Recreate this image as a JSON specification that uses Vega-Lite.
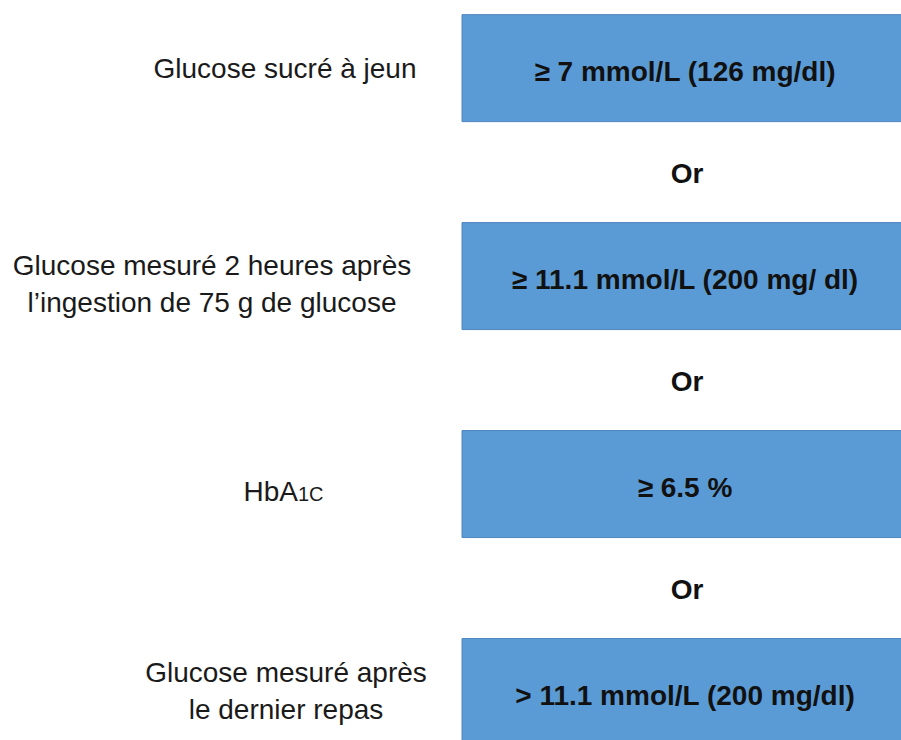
{
  "$schema": "https://vega.github.io/schema/vega-lite/v6.json",
  "width": 901,
  "height": 740,
  "padding": 0,
  "autosize": {"type": "none"},
  "background": "white",
  "config": {"view": {"stroke": null}},
  "data": {
    "values": [
      {"row": 0, "label": "Glucose sucré à jeun", "sub": "", "criterion": "≥ 7 mmol/L (126 mg/dl)"},
      {"row": 1, "label": ["Glucose mesuré 2 heures après", "l’ingestion de 75 g de glucose"], "sub": "", "criterion": "≥ 11.1 mmol/L (200 mg/ dl)"},
      {"row": 2, "label": "HbA", "sub": "1C", "criterion": "≥ 6.5 %"},
      {"row": 3, "label": ["Glucose mesuré après", "le dernier repas"], "sub": "", "criterion": "> 11.1 mmol/L (200 mg/dl)"}
    ]
  },
  "encoding": {
    "y": {
      "field": "row",
      "type": "quantitative",
      "scale": {"domain": [-0.3036, 3.2068], "reverse": true, "nice": false, "zero": false},
      "axis": null
    }
  },
  "layer": [
    {
      "mark": {"type": "bar", "height": 107, "fill": "#5b9bd5", "stroke": "#4f86be", "strokeWidth": 1},
      "encoding": {
        "x": {"datum": 462, "type": "quantitative", "scale": {"domain": [0, 901], "nice": false, "zero": false}, "axis": null},
        "x2": {"datum": 910}
      }
    },
    {
      "mark": {"type": "text", "font": "Liberation Sans", "fontWeight": "bold", "fontSize": 28, "color": "#111111", "align": "center", "baseline": "alphabetic", "dy": 13},
      "encoding": {
        "x": {"datum": 685, "type": "quantitative"},
        "text": {"field": "criterion"}
      }
    },
    {
      "transform": [{"filter": "datum.row < 3"}],
      "mark": {"type": "text", "font": "Liberation Sans", "fontWeight": "bold", "fontSize": 28, "color": "#111111", "align": "center", "baseline": "alphabetic", "dy": 115},
      "encoding": {
        "x": {"datum": 687, "type": "quantitative"},
        "text": {"value": "Or"}
      }
    },
    {
      "transform": [{"filter": "datum.row == 0"}],
      "mark": {"type": "text", "font": "Liberation Sans", "fontSize": 28, "color": "#1a1a1a", "align": "center", "baseline": "alphabetic", "dy": 10},
      "encoding": {
        "x": {"datum": 285, "type": "quantitative"},
        "text": {"field": "label"}
      }
    },
    {
      "transform": [{"filter": "datum.row == 1"}],
      "mark": {"type": "text", "font": "Liberation Sans", "fontSize": 28, "color": "#1a1a1a", "align": "center", "baseline": "alphabetic", "lineHeight": 37, "dy": -1},
      "encoding": {
        "x": {"datum": 212, "type": "quantitative"},
        "text": {"field": "label"}
      }
    },
    {
      "transform": [{"filter": "datum.row == 2"}],
      "mark": {"type": "text", "font": "Liberation Sans", "fontSize": 28, "color": "#1a1a1a", "align": "right", "baseline": "alphabetic", "dy": 17},
      "encoding": {
        "x": {"datum": 298, "type": "quantitative"},
        "text": {"field": "label"}
      }
    },
    {
      "transform": [{"filter": "datum.row == 2"}],
      "mark": {"type": "text", "font": "Liberation Sans", "fontSize": 20, "color": "#1a1a1a", "align": "left", "baseline": "alphabetic", "dy": 17},
      "encoding": {
        "x": {"datum": 298, "type": "quantitative"},
        "text": {"field": "sub"}
      }
    },
    {
      "transform": [{"filter": "datum.row == 3"}],
      "mark": {"type": "text", "font": "Liberation Sans", "fontSize": 28, "color": "#1a1a1a", "align": "center", "baseline": "alphabetic", "lineHeight": 37, "dy": -10},
      "encoding": {
        "x": {"datum": 286, "type": "quantitative"},
        "text": {"field": "label"}
      }
    }
  ]
}
